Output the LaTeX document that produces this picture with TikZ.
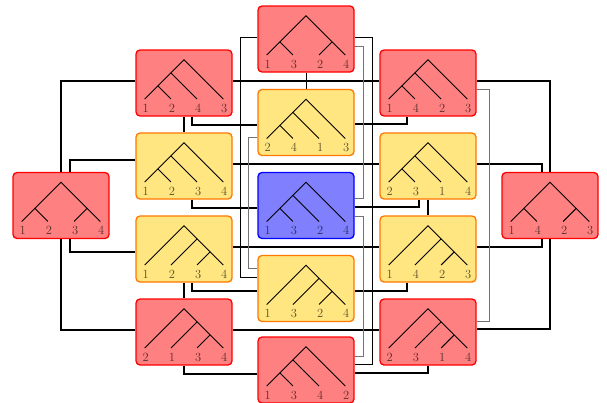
\documentclass[tikz,border=0pt]{standalone}
\usetikzlibrary{backgrounds}
\definecolor{redfill}{RGB}{255,128,128}
\definecolor{yelfill}{RGB}{255,230,128}
\definecolor{yeldraw}{RGB}{255,120,0}
\definecolor{bluefill}{RGB}{128,128,255}
\tikzset{
 box/.style={rounded corners=4pt, minimum width=96pt, minimum height=66pt, inner sep=0pt, line width=1.3pt},
 redbox/.style={box, draw=red, fill=redfill},
 yelbox/.style={box, draw=yeldraw, fill=yelfill},
 bluebox/.style={box, draw=blue, fill=bluefill},
 edge/.style={line width=1.3pt, black},
 thinedge/.style={line width=0.9pt, black},
 grayedge/.style={line width=1pt, black!55},
 branch/.style={line width=0.9pt, black},
 leaflabel/.style={inner sep=0pt, text=black, text opacity=0.65, font=\fontsize{12.5}{14}\selectfont},
}
\newcommand{\treeA}{\draw[branch] (-13.1,-10.2) -- (13.1,16); \draw[branch] (-26.2,2.9) -- (-13.1,16);}
\newcommand{\treeB}{\draw[branch] (13.1,-10.2) -- (-13.1,16); \draw[branch] (26.2,2.9) -- (13.1,16);}
\newcommand{\treeC}{\draw[branch] (-26.2,2.9) -- (-13.1,16); \draw[branch] (26.2,2.9) -- (13.1,16);}
\newcommand{\phylo}[6]{%
 \begin{scope}[shift={(#1.center)}]
  \draw[branch] (-39.3,16) -- (0,-23.3) -- (39.3,16);
  #2
  \node[leaflabel] (#1l1) at (-38.3,25) {#3};
  \node[leaflabel] (#1l2) at (-12.1,25) {#4};
  \node[leaflabel] (#1l3) at (14.1,25) {#5};
  \node[leaflabel] (#1l4) at (40.3,25) {#6};
 \end{scope}}
\begin{document}
\begin{tikzpicture}[x=1pt,y=-1pt]
\useasboundingbox (0,0) rectangle (607,402);
\node[redbox] (b1) at (306,39) {};
\node[redbox] (b2) at (184,83) {};
\node[redbox] (b3) at (428,83) {};
\node[yelbox] (b4) at (306,122.5) {};
\node[yelbox] (b5) at (184,166) {};
\node[yelbox] (b6) at (428,166) {};
\node[redbox] (b7) at (61,205.5) {};
\node[bluebox] (b8) at (306,205.5) {};
\node[redbox] (b9) at (550,205.5) {};
\node[yelbox] (b10) at (184,249) {};
\node[yelbox] (b11) at (428,249) {};
\node[yelbox] (b12) at (306,288.5) {};
\node[redbox] (b13) at (184,332) {};
\node[redbox] (b14) at (428,332) {};
\node[redbox] (b15) at (306,370) {};
\phylo{b1}{\treeC}{1}{3}{2}{4}
\phylo{b2}{\treeA}{1}{2}{4}{3}
\phylo{b3}{\treeA}{1}{4}{2}{3}
\phylo{b4}{\treeA}{2}{4}{1}{3}
\phylo{b5}{\treeA}{1}{2}{3}{4}
\phylo{b6}{\treeA}{2}{3}{1}{4}
\phylo{b7}{\treeC}{1}{2}{3}{4}
\phylo{b8}{\treeA}{1}{3}{2}{4}
\phylo{b9}{\treeC}{1}{4}{2}{3}
\phylo{b10}{\treeB}{1}{2}{3}{4}
\phylo{b11}{\treeB}{1}{4}{2}{3}
\phylo{b12}{\treeB}{1}{3}{2}{4}
\phylo{b13}{\treeB}{2}{1}{3}{4}
\phylo{b14}{\treeB}{2}{3}{1}{4}
\phylo{b15}{\treeA}{1}{3}{4}{2}
\begin{scope}[on background layer]
\draw[edge] ([yshift=2pt]b2.east) -- ([yshift=2pt]b3.west);
\draw[edge] ([yshift=2pt]b2.west) -| (b7.north);
\draw[edge] (b2.south) -- (b5.north);
\draw[edge] ([xshift=8pt]b2.south) |- ([yshift=-2.5pt]b4.west);
\draw[edge] ([xshift=-21pt]b3.south) |- ([yshift=-1.5pt]b4.east);
\draw[edge] ([yshift=2pt]b3.east) -| (b9.north);
\draw[edge] ([yshift=6pt]b5.west) -| ([xshift=9pt]b7.north);
\draw[edge] ([yshift=2pt]b5.east) -- ([yshift=2pt]b6.west);
\draw[edge] ([xshift=8pt]b5.south) |- ([yshift=-2.5pt]b8.west);
\draw[edge] ([xshift=-9pt]b6.south) |- ([yshift=-1.5pt]b8.east);
\draw[edge] ([yshift=2pt]b6.east) -| ([xshift=-8pt]b9.north);
\draw[edge] (b6.south) -- (b11.north);
\draw[edge] ([xshift=9pt]b7.south) |- ([yshift=-3pt]b10.west);
\draw[edge] (b7.south) |- ([yshift=2pt]b13.west);
\draw[edge] ([yshift=2pt]b10.east) -- ([yshift=2pt]b11.west);
\draw[edge] (b10.south) -- (b13.north);
\draw[edge] ([xshift=8pt]b10.south) |- ([yshift=-2.5pt]b12.west);
\draw[edge] ([xshift=-21pt]b11.south) |- ([yshift=-2.5pt]b12.east);
\draw[edge] ([xshift=-8pt]b9.south) |- ([yshift=2pt]b11.east);
\draw[edge] (b9.south) |- ([yshift=3pt]b14.east);
\draw[edge] ([yshift=2pt]b13.east) -- ([yshift=2pt]b14.west);
\draw[edge] (b13.south) |- ([yshift=-4pt]b15.west);
\draw[edge] (b14.south) |- ([yshift=-3pt]b15.east);
\draw[thinedge] (b1.south) -- (b4.north);
\draw[thinedge] ([yshift=2pt]b1.west) -| ([xshift=-17pt,yshift=11.5pt]b12.west) -- ([yshift=11.5pt]b12.west);
\draw[grayedge] ([yshift=-14.5pt]b4.west) -| ([xshift=-9pt,yshift=20.5pt]b12.west) -- ([yshift=20.5pt]b12.west);
\draw[grayedge] ([yshift=-7pt]b1.east) -| ([xshift=9pt,yshift=7.5pt]b8.east) -- ([yshift=7.5pt]b8.east);
\draw[grayedge] ([yshift=-11pt]b8.east) -| ([xshift=9pt,yshift=14pt]b15.east) -- ([yshift=14pt]b15.east);
\draw[thinedge] ([yshift=2pt]b1.east) -| ([xshift=18pt,yshift=6pt]b15.east) -- ([yshift=6pt]b15.east);
\draw[grayedge] ([yshift=-6pt]b3.east) -| ([xshift=13pt,yshift=11pt]b14.east) -- ([yshift=11pt]b14.east);
\end{scope}
\end{tikzpicture}
\end{document}
